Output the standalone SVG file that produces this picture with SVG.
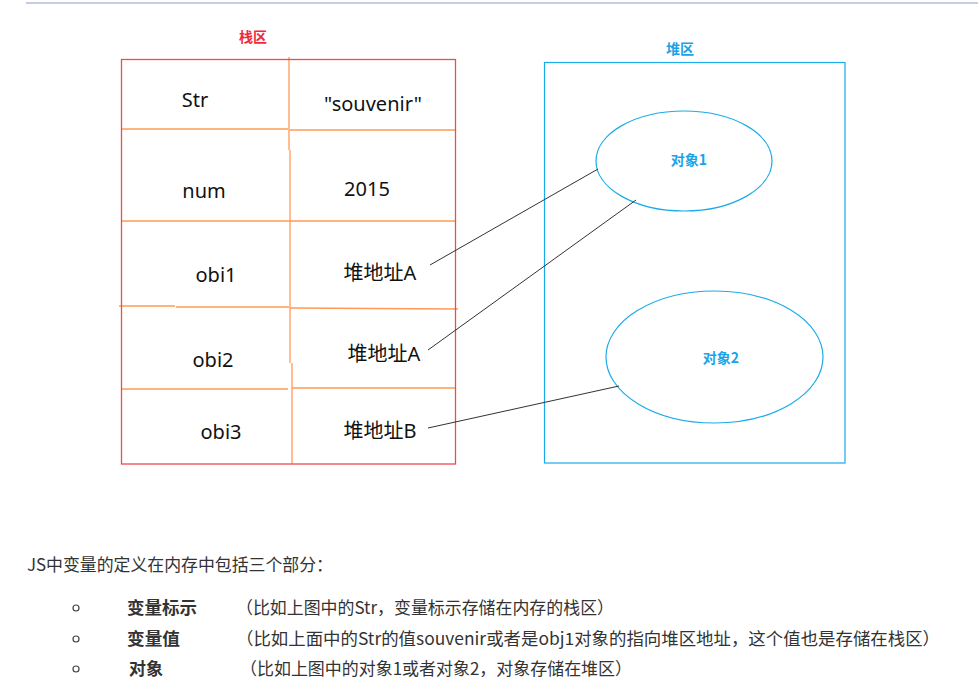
<svg xmlns="http://www.w3.org/2000/svg" width="978" height="684" viewBox="0 0 978 684">
<style>
.cell{font-family:"Noto Sans","Noto Sans CJK SC",sans-serif;font-size:20px;fill:#111;text-anchor:middle;dominant-baseline:central}
.div{stroke:#ff9a55;stroke-width:1.3;fill:none}
.conn{stroke:#333;stroke-width:1;fill:none}
.obj{fill:none;stroke:#1aabea;stroke-width:1.2}
.objt{font-family:"Noto Sans CJK SC",sans-serif;font-size:14px;font-weight:bold;fill:#1aa3e6;text-anchor:middle;dominant-baseline:central}
.body{font-family:"Noto Sans CJK SC",sans-serif;font-size:17px;fill:#333}
.bold{font-weight:bold}
.bul{fill:none;stroke:#444;stroke-width:1.2}
</style>
<rect width="978" height="684" fill="#fff"/>
<line x1="26" y1="3" x2="978" y2="3" stroke="#c5cde0" stroke-width="2"/>

<g id="stack">
  <text x="253" y="36" font-family="Noto Sans CJK SC,sans-serif" font-size="14" font-weight="bold" fill="#f2283a" text-anchor="middle" dominant-baseline="central">栈区</text>
  <line class="div" x1="289" y1="57" x2="289" y2="150"/>
  <line class="div" x1="290" y1="150" x2="290" y2="363"/>
  <line class="div" x1="292" y1="363" x2="292" y2="464"/>
  <line class="div" x1="121" y1="129" x2="288" y2="129"/>
  <line class="div" x1="290" y1="130" x2="455" y2="130"/>
  <line class="div" x1="121" y1="221" x2="455" y2="221"/>
  <line class="div" x1="119" y1="306" x2="175" y2="306"/>
  <line class="div" x1="176" y1="307" x2="289" y2="307"/>
  <line class="div" x1="290" y1="308" x2="458" y2="309"/>
  <line class="div" x1="121" y1="389" x2="288" y2="389"/>
  <line class="div" x1="292" y1="388" x2="455" y2="388"/>
  <rect x="121.5" y="59.5" width="334" height="404.5" fill="none" stroke="#f04a50" stroke-width="1.3"/>
</g>

<g id="row-str">
  <text class="cell" x="195" y="99">Str</text>
  <text class="cell" x="373" y="103">"souvenir"</text>
</g>
<g id="row-num">
  <text class="cell" x="204" y="190">num</text>
  <text class="cell" x="367" y="188">2015</text>
</g>
<g id="row-obi1">
  <text class="cell" x="216" y="274">obi1</text>
  <text class="cell" x="380" y="272">堆地址A</text>
</g>
<g id="row-obi2">
  <text class="cell" x="213" y="359">obi2</text>
  <text class="cell" x="384" y="353">堆地址A</text>
</g>
<g id="row-obi3">
  <text class="cell" x="221" y="431">obi3</text>
  <text class="cell" x="380" y="430">堆地址B</text>
</g>

<g id="heap">
  <text x="680" y="48" font-family="Noto Sans CJK SC,sans-serif" font-size="14" font-weight="bold" fill="#1aa3e6" text-anchor="middle" dominant-baseline="central">堆区</text>
  <rect x="544.5" y="62.5" width="300.5" height="400.5" fill="none" stroke="#1aabea" stroke-width="1.2"/>
</g>

<g id="obj1">
  <ellipse class="obj" cx="684" cy="161" rx="88" ry="50"/>
  <text class="objt" x="689" y="159">对象1</text>
</g>
<g id="obj2">
  <ellipse class="obj" cx="714.5" cy="357" rx="108.5" ry="66"/>
  <text class="objt" x="721" y="357">对象2</text>
</g>

<g id="connectors">
  <line class="conn" x1="430" y1="265" x2="598" y2="169"/>
  <line class="conn" x1="428" y1="350" x2="636" y2="200"/>
  <line class="conn" x1="428" y1="428" x2="619" y2="386"/>
</g>

<g id="notes">
  <text class="body" x="27" y="571" textLength="306" lengthAdjust="spacingAndGlyphs">JS中变量的定义在内存中包括三个部分：</text>
  <circle class="bul" cx="76" cy="608" r="3"/>
  <circle class="bul" cx="76" cy="639" r="3"/>
  <circle class="bul" cx="76" cy="669" r="3"/>
  <text class="body bold" x="127" y="614" textLength="70" lengthAdjust="spacingAndGlyphs">变量标示</text>
  <text class="body bold" x="127" y="645" textLength="53" lengthAdjust="spacingAndGlyphs">变量值</text>
  <text class="body bold" x="129" y="675" textLength="34" lengthAdjust="spacingAndGlyphs">对象</text>
  <text class="body" x="236" y="614" textLength="378" lengthAdjust="spacingAndGlyphs">（比如上图中的Str，变量标示存储在内存的栈区）</text>
  <text class="body" x="236" y="645" textLength="704" lengthAdjust="spacingAndGlyphs">（比如上面中的Str的值souvenir或者是obj1对象的指向堆区地址，这个值也是存储在栈区）</text>
  <text class="body" x="240" y="675" textLength="392" lengthAdjust="spacingAndGlyphs">（比如上图中的对象1或者对象2，对象存储在堆区）</text>
</g>
</svg>
